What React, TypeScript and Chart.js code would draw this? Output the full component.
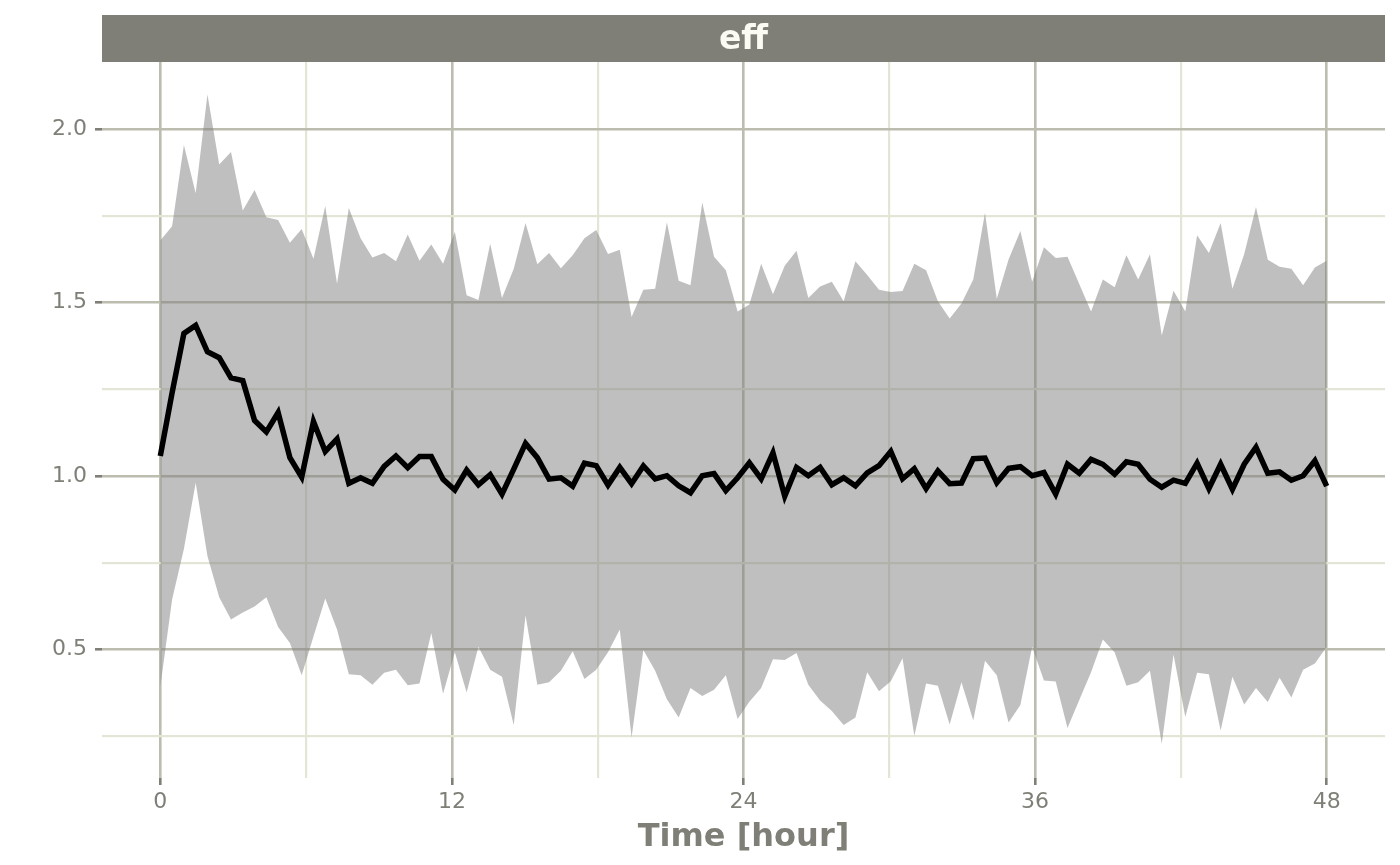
import { useEffect, useRef } from 'react';
import { Chart, registerables } from 'chart.js';

Chart.register(...registerables);

const panelLabel = 'eff';
const xTitle = 'Time [hour]';

const timeHours = [
  0, 0.485, 0.97, 1.455, 1.939, 2.424, 2.909, 3.394, 3.879, 4.364,
  4.848, 5.333, 5.818, 6.303, 6.788, 7.273, 7.758, 8.242, 8.727, 9.212,
  9.697, 10.182, 10.667, 11.152, 11.636, 12.121, 12.606, 13.091, 13.576, 14.061,
  14.545, 15.03, 15.515, 16.0, 16.485, 16.97, 17.455, 17.939, 18.424, 18.909,
  19.394, 19.879, 20.364, 20.848, 21.333, 21.818, 22.303, 22.788, 23.273, 23.758,
  24.242, 24.727, 25.212, 25.697, 26.182, 26.667, 27.152, 27.636, 28.121, 28.606,
  29.091, 29.576, 30.061, 30.545, 31.03, 31.515, 32.0, 32.485, 32.97, 33.455,
  33.939, 34.424, 34.909, 35.394, 35.879, 36.364, 36.848, 37.333, 37.818, 38.303,
  38.788, 39.273, 39.758, 40.242, 40.727, 41.212, 41.697, 42.182, 42.667, 43.152,
  43.636, 44.121, 44.606, 45.091, 45.576, 46.061, 46.545, 47.03, 47.515, 48.0,
];

const medianValues = [
  1.058, 1.24, 1.411, 1.434, 1.358, 1.341, 1.283, 1.275, 1.16, 1.127,
  1.183, 1.053, 0.997, 1.157, 1.071, 1.107, 0.979, 0.995, 0.979, 1.028,
  1.058, 1.024, 1.056, 1.056, 0.991, 0.96, 1.017, 0.975, 1.004, 0.948,
  1.02, 1.094, 1.053, 0.991, 0.995, 0.971, 1.037, 1.03, 0.974, 1.025,
  0.978, 1.029, 0.992, 1.001, 0.972, 0.952, 1.001, 1.007, 0.958, 0.995,
  1.038, 0.992, 1.067, 0.942, 1.025, 1.001, 1.025, 0.975, 0.995, 0.972,
  1.009, 1.03, 1.071, 0.992, 1.021, 0.964, 1.015, 0.978, 0.98, 1.05,
  1.052, 0.981, 1.022, 1.027, 1.001, 1.01, 0.948, 1.034, 1.008, 1.048,
  1.034, 1.005, 1.041, 1.034, 0.991, 0.968, 0.988, 0.979, 1.037, 0.964,
  1.034, 0.962, 1.034, 1.083, 1.008, 1.012, 0.988, 1.001, 1.044, 0.971,
];

const upperValues = [
  1.679, 1.72, 1.954, 1.815, 2.099, 1.898, 1.934, 1.765, 1.824, 1.746,
  1.738, 1.672, 1.712, 1.626, 1.778, 1.554, 1.772, 1.685, 1.63, 1.643,
  1.619, 1.696, 1.62, 1.667, 1.612, 1.704, 1.521, 1.507, 1.669, 1.513,
  1.597, 1.729, 1.61, 1.643, 1.599, 1.636, 1.685, 1.709, 1.64, 1.652,
  1.458, 1.537, 1.54, 1.731, 1.563, 1.55, 1.788, 1.632, 1.593, 1.474,
  1.494, 1.612, 1.524, 1.606, 1.649, 1.513, 1.546, 1.56, 1.504, 1.619,
  1.579, 1.537, 1.53, 1.533, 1.612, 1.593, 1.504, 1.454, 1.497, 1.566,
  1.759, 1.511, 1.624, 1.706, 1.56, 1.659, 1.628, 1.632, 1.553, 1.474,
  1.566, 1.544, 1.636, 1.566, 1.639, 1.405, 1.534, 1.474, 1.694, 1.643,
  1.729, 1.54, 1.64, 1.775, 1.623, 1.603, 1.597, 1.55, 1.601, 1.62,
];

const lowerValues = [
  0.393, 0.644, 0.79, 0.981, 0.77, 0.651, 0.587, 0.607, 0.624, 0.651,
  0.565, 0.519, 0.426, 0.538, 0.647, 0.558, 0.429, 0.426, 0.399, 0.433,
  0.442, 0.397, 0.402, 0.548, 0.373, 0.492, 0.376, 0.508, 0.442, 0.422,
  0.283, 0.598, 0.399, 0.406, 0.439, 0.495, 0.415, 0.442, 0.492, 0.558,
  0.247, 0.499, 0.439, 0.357, 0.304, 0.389, 0.366, 0.384, 0.426, 0.3,
  0.35, 0.389, 0.472, 0.47, 0.49, 0.399, 0.353, 0.323, 0.283, 0.304,
  0.435, 0.38, 0.409, 0.475, 0.251, 0.402, 0.396, 0.284, 0.406, 0.296,
  0.468, 0.426, 0.29, 0.34, 0.508, 0.411, 0.408, 0.274, 0.355, 0.435,
  0.529, 0.492, 0.396, 0.406, 0.439, 0.228, 0.486, 0.306, 0.433, 0.429,
  0.267, 0.422, 0.342, 0.389, 0.349, 0.419, 0.362, 0.442, 0.46, 0.508,
];

const xMajorTicks = [0, 12, 24, 36, 48];
const xMinorTicks = [6, 18, 30, 42];
const yMajorTicks = [0.5, 1.0, 1.5, 2.0];
const yMinorTicks = [0.25, 0.75, 1.25, 1.75];

const FONT = '"DejaVu Sans", sans-serif';
const GRAY = '#7f7f77';
const MAJOR_GRID = '#bcbcaf';
const MINOR_GRID = '#e5e5d7';

const isIn = (arr: number[], v: number) => arr.some((a) => Math.abs(a - v) < 1e-9);

const decorPlugin = {
  id: 'decor',
  afterDraw(chart: any) {
    const { ctx, chartArea } = chart;
    ctx.save();
    ctx.fillStyle = GRAY;
    ctx.fillRect(chartArea.left, 15, chartArea.right - chartArea.left, chartArea.top - 15);
    ctx.fillStyle = '#fbfbf3';
    ctx.font = `bold 33px ${FONT}`;
    ctx.textAlign = 'center';
    ctx.textBaseline = 'middle';
    const cx = (chartArea.left + chartArea.right) / 2;
    ctx.fillText(panelLabel, cx, (15 + chartArea.top) / 2 + 2);
    ctx.fillStyle = GRAY;
    ctx.font = `bold 32px ${FONT}`;
    ctx.fillText(xTitle, cx, 838);
    ctx.restore();
  },
};

export default function App() {
  const ref = useRef<HTMLCanvasElement | null>(null);

  useEffect(() => {
    document.body.style.margin = '0';
    if (!ref.current) return;
    const pts = (vals: number[]) => timeHours.map((t, i) => ({ x: t, y: vals[i] }));
    const chart = new Chart(ref.current, {
      type: 'line',
      data: {
        datasets: [
          {
            label: 'median',
            data: pts(medianValues),
            borderColor: '#000000',
            borderWidth: 5.5,
            borderJoinStyle: 'miter',
            borderCapStyle: 'butt',
            pointRadius: 0,
            tension: 0,
            fill: false,
          },
          {
            label: 'upper',
            data: pts(upperValues),
            borderWidth: 0,
            borderColor: 'rgba(0,0,0,0)',
            backgroundColor: 'rgba(127,127,127,0.5)',
            pointRadius: 0,
            tension: 0,
            fill: 2,
          },
          {
            label: 'lower',
            data: pts(lowerValues),
            borderWidth: 0,
            borderColor: 'rgba(0,0,0,0)',
            pointRadius: 0,
            tension: 0,
            fill: false,
          },
        ],
      },
      options: {
        animation: false,
        responsive: true,
        maintainAspectRatio: false,
        layout: { padding: { top: 62, right: 15, left: 0, bottom: 0 } },
        plugins: { legend: { display: false }, tooltip: { enabled: false } },
        scales: {
          x: {
            type: 'linear',
            min: -2.4,
            max: 50.4,
            afterBuildTicks: (scale: any) => {
              scale.ticks = [...xMajorTicks, ...xMinorTicks].sort((a, b) => a - b).map((v) => ({ value: v }));
            },
            afterFit: (scale: any) => {
              scale.height = 87;
            },
            border: { display: false },
            grid: {
              drawTicks: true,
              tickLength: 7,
              color: (c: any) => (isIn(xMajorTicks, c.tick?.value) ? MAJOR_GRID : MINOR_GRID),
              lineWidth: (c: any) => (isIn(xMajorTicks, c.tick?.value) ? 2.6 : 2.2),
              tickColor: (c: any) => (isIn(xMajorTicks, c.tick?.value) ? GRAY : 'rgba(0,0,0,0)'),
              tickWidth: 2.6,
            },
            ticks: {
              autoSkip: false,
              maxRotation: 0,
              padding: 4,
              color: GRAY,
              font: { family: FONT, size: 22 },
              callback: (v: any) => (isIn(xMajorTicks, Number(v)) ? String(v) : ''),
            },
          },
          y: {
            type: 'linear',
            min: 0.13,
            max: 2.193,
            afterBuildTicks: (scale: any) => {
              scale.ticks = [...yMajorTicks, ...yMinorTicks].sort((a, b) => a - b).map((v) => ({ value: v }));
            },
            afterFit: (scale: any) => {
              scale.width = 102;
            },
            border: { display: false },
            grid: {
              drawTicks: true,
              tickLength: 7,
              color: (c: any) => (isIn(yMajorTicks, c.tick?.value) ? MAJOR_GRID : MINOR_GRID),
              lineWidth: (c: any) => (isIn(yMajorTicks, c.tick?.value) ? 2.6 : 2.2),
              tickColor: (c: any) => (isIn(yMajorTicks, c.tick?.value) ? GRAY : 'rgba(0,0,0,0)'),
              tickWidth: 2.6,
            },
            ticks: {
              autoSkip: false,
              padding: 8,
              color: GRAY,
              font: { family: FONT, size: 22 },
              callback: (v: any) => (isIn(yMajorTicks, Number(v)) ? Number(v).toFixed(1) : ''),
            },
          },
        },
      },
      plugins: [decorPlugin],
    } as any);
    return () => chart.destroy();
  }, []);

  return (
    <div style={{ position: 'absolute', left: 0, top: 0, width: 1400, height: 865, background: '#ffffff' }}>
      <canvas ref={ref} />
    </div>
  );
}
